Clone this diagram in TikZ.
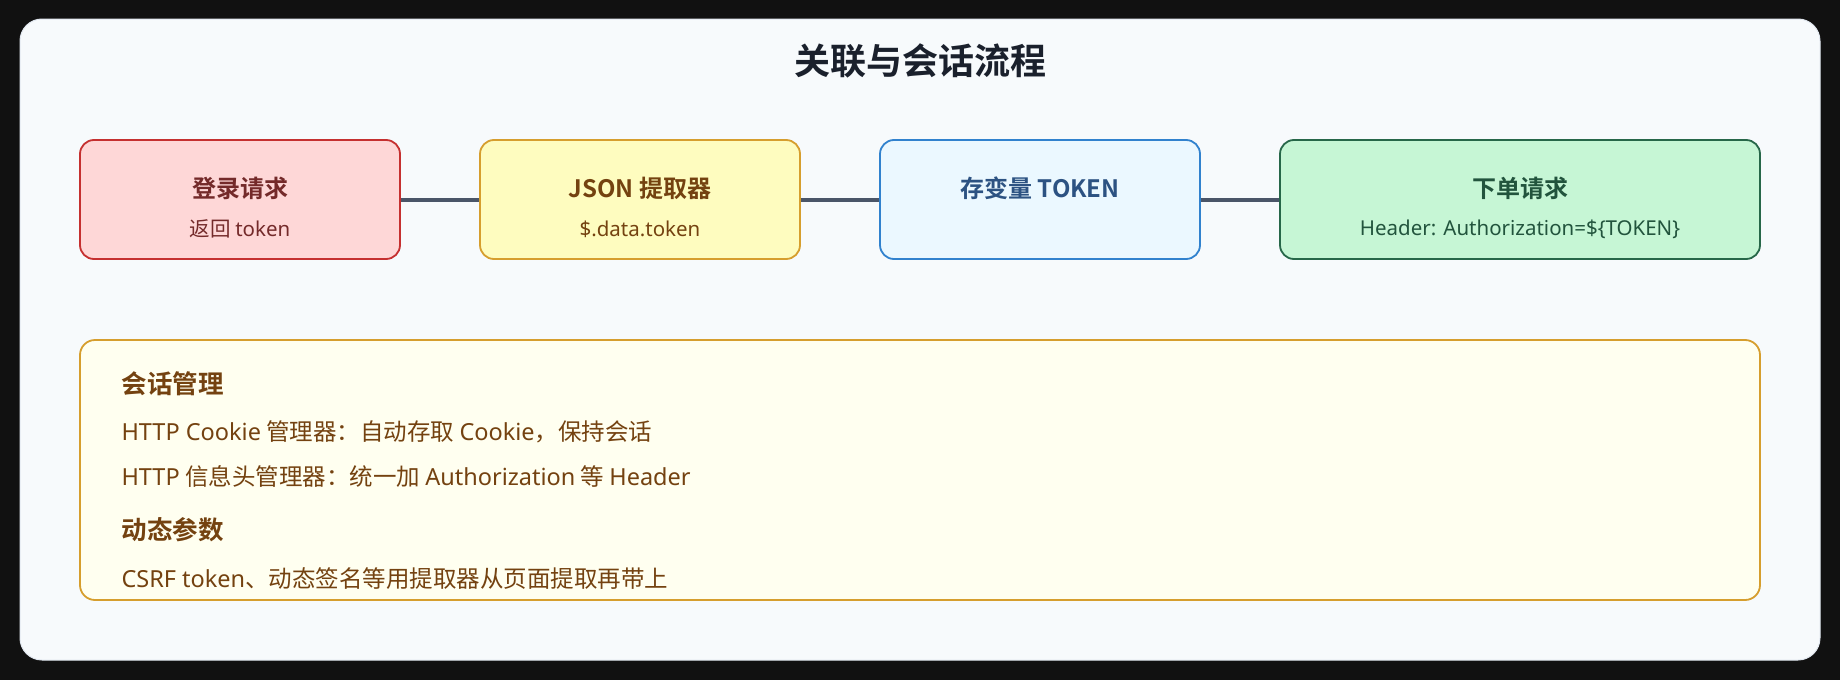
\documentclass[tikz,border=0pt]{standalone}
\usepackage{fontspec}
\setmainfont{Noto Sans CJK SC}
\newfontfamily\cjkb{Noto Sans CJK SC Bold}
\newfontfamily\lat{Noto Sans}
\usetikzlibrary{positioning}
\definecolor{outerbg}{HTML}{111111}
\definecolor{cardbg}{HTML}{F7FAFC}
\definecolor{cardline}{HTML}{E2E8F0}
\definecolor{titlec}{HTML}{1A202C}
\definecolor{conn}{HTML}{4A5568}
\definecolor{rfill}{HTML}{FED7D7}\definecolor{rline}{HTML}{C53030}\definecolor{rtext}{HTML}{742A2A}
\definecolor{yfill}{HTML}{FEFCBF}\definecolor{yline}{HTML}{D69E2E}\definecolor{ytext}{HTML}{744210}
\definecolor{bfill}{HTML}{EBF8FF}\definecolor{bline}{HTML}{3182CE}\definecolor{btext}{HTML}{2C5282}
\definecolor{gfill}{HTML}{C6F6D5}\definecolor{gline}{HTML}{276749}\definecolor{gtext}{HTML}{22543D}
\definecolor{pfill}{HTML}{FFFFF0}
\tikzset{
  flowbox/.style={draw, line width=1.8pt, rounded corners=14pt, minimum height=119pt, inner sep=0pt},
  conline/.style={draw=conn, line width=4pt},
  btitle/.style={font=\cjkb\fontsize{24}{28}\selectfont, anchor=center},
  bsub/.style={font=\fontsize{20.5}{24}\selectfont, anchor=center},
  phead/.style={font=\cjkb\fontsize{25.5}{28}\selectfont, text=ytext, anchor=west},
  pbody/.style={font=\fontsize{23.5}{27}\selectfont, text=ytext, anchor=west},
}
\begin{document}
\begin{tikzpicture}[x=1pt,y=-1pt]
\useasboundingbox (0,0) rectangle (1840,680);
\fill[outerbg] (0,0) rectangle (1840,680);
\filldraw[fill=cardbg, draw=cardline, line width=1pt, rounded corners=22pt] (20,19) rectangle (1820,660);
\node[font=\cjkb\fontsize{36}{40}\selectfont, text=titlec] (title) at (920,61) {关联与会话流程};
% boxes
\node[flowbox, fill=rfill, draw=rline, minimum width=320pt] (b1) at (240,199.5) {};
\node[flowbox, fill=yfill, draw=yline, minimum width=320pt] (b2) at (640,199.5) {};
\node[flowbox, fill=bfill, draw=bline, minimum width=320pt] (b3) at (1040,199.5) {};
\node[flowbox, fill=gfill, draw=gline, minimum width=480pt] (b4) at (1520,199.5) {};
\draw[conline] (b1.east) -- (b2.west);
\draw[conline] (b2.east) -- (b3.west);
\draw[conline] (b3.east) -- (b4.west);
\node[btitle, text=rtext] (t1) at (240,188) {登录请求};
\node[bsub, text=rtext] (s1) at (240,229) {返回 {\lat token}};
\node[btitle, text=ytext] (t2) at (640,188) {JSON 提取器};
\node[bsub, text=ytext] (s2) at (640,229) {\lat \$.data.token};
\node[btitle, text=btext] (t3) at (1040,188) {存变量 TOKEN};
\node[btitle, text=gtext] (t4) at (1520,188) {下单请求};
\node[bsub, text=gtext] (s4) at (1520,229) {\lat Header: Authorization=\$\{TOKEN\}};
% panel
\filldraw[fill=pfill, draw=yline, line width=1.8pt, rounded corners=15pt] (80,340) rectangle (1760,600);
\node[phead] (h1) at (118,384) {会话管理};
\node[pbody] (l1) at (118,432) {{\lat HTTP Cookie} 管理器：自动存取 {\lat Cookie}，保持会话};
\node[pbody] (l2) at (118,476) {{\lat HTTP} 信息头管理器：统一加 {\lat Authorization} 等 {\lat Header}};
\node[phead] (h2) at (118,530) {动态参数};
\node[pbody] (l3) at (118,579) {{\lat CSRF token}、动态签名等用提取器从页面提取再带上};
\end{tikzpicture}
\end{document}
